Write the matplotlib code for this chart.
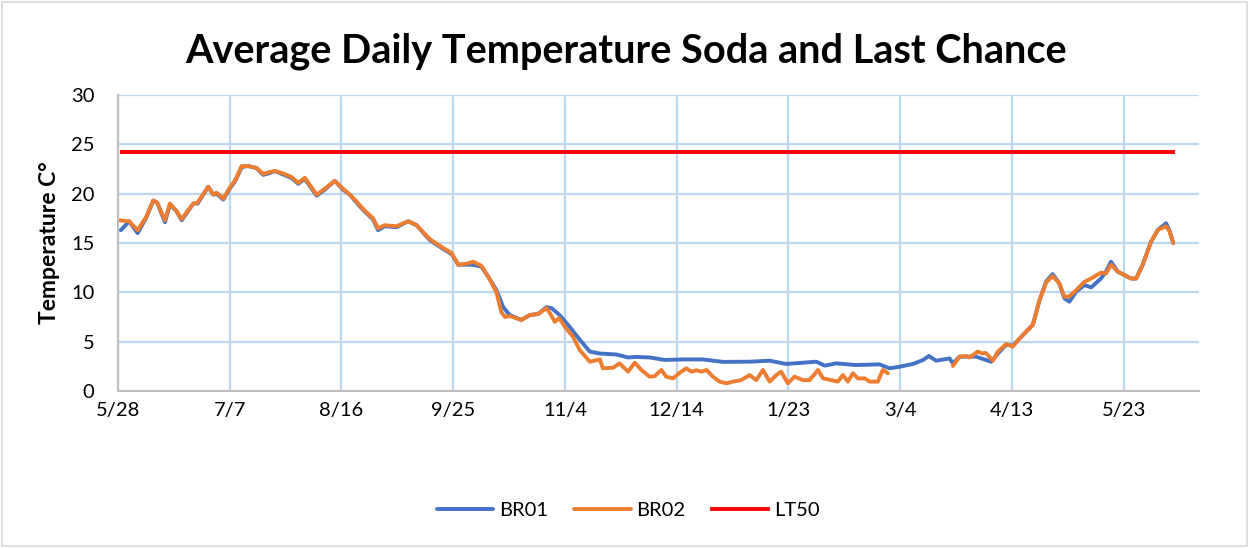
import numpy as np
import pandas as pd
import matplotlib
matplotlib.use('Agg')
import matplotlib.pyplot as plt
from matplotlib.patches import Rectangle

plt.rcParams['font.family'] = ['Lato', 'DejaVu Sans']

# day offsets from 5/28, temperatures
START = pd.Timestamp('2018-05-28')

br01_day = [1, 4, 7, 10, 12.6, 14, 16.8, 18.6, 21, 22.8, 25, 27, 28.5, 32.3, 34.1, 35.3,
            37.7, 40, 42, 44.3, 46.6, 49.6, 52, 54.4, 56.2, 58.6, 62.1, 64.5, 66.9, 71.1,
            74, 77.6, 80.6, 83, 84.8, 86.6, 89, 91.3, 93.1, 95.5, 99.7, 103.9, 106.9, 111.6,
            116.4, 119.4, 121.8, 124.8, 127, 130.1, 132.5, 135.5, 137.9, 140.2, 144.4, 147.4,
            150.4, 153.4, 155.2, 158.1, 161.7, 165.3, 168.9, 172.5, 178.4, 182.6, 185.6, 190.3,
            195.7, 202.3, 209.4, 216.6, 226.1, 233.3, 239.2, 250, 253, 257.1, 264.3, 272.6,
            276.2, 279.8, 284.6, 288.2, 290.3, 292.9, 297.7, 298.9, 301.3, 307.2, 312.6, 315,
            318, 320.3, 322.7, 325.1, 327.5, 329.9, 332.3, 334.6, 337, 338.8, 340.6, 343, 346,
            348.4, 351.9, 353.7, 355.5, 357.9, 360.3, 362.7, 364.5, 366.8, 369.8, 372.2, 375.2,
            376.4, 377.8]
br01_temp = [16.3, 17.2, 16.0, 17.5, 19.3, 19.1, 17.1, 18.9, 18.2, 17.3, 18.2, 19.0, 19.0, 20.7,
             19.9, 20.0, 19.4, 20.5, 21.3, 22.7, 22.8, 22.6, 21.9, 22.1, 22.3, 22.0, 21.6, 21.0,
             21.5, 19.8, 20.4, 21.3, 20.4, 19.9, 19.3, 18.7, 18.0, 17.4, 16.3, 16.7, 16.6, 17.2,
             16.8, 15.3, 14.4, 13.9, 12.8, 12.8, 12.8, 12.6, 11.6, 10.2, 8.5, 7.7, 7.2, 7.7, 7.8,
             8.5, 8.4, 7.7, 6.5, 5.2, 4.0, 3.8, 3.7, 3.4, 3.45, 3.4, 3.15, 3.2, 3.2, 2.95, 2.97,
             3.07, 2.74, 2.97, 2.57, 2.8, 2.63, 2.7, 2.3, 2.46, 2.74, 3.14, 3.55, 3.07, 3.3, 2.8,
             3.48, 3.48, 2.97, 3.8, 4.7, 4.6, 5.3, 6.0, 6.7, 9.2, 11.1, 11.85, 10.9, 9.4, 9.05,
             10.06, 10.74, 10.5, 11.4, 12.1, 13.1, 12.1, 11.75, 11.4, 11.4, 12.77, 15.1, 16.3,
             17.0, 16.3, 15.0]

br02_day = [0.5, 4, 7, 10, 12.6, 14, 16.8, 18.6, 21, 22.8, 25, 27, 28.5, 32.3, 34.1, 35.3,
            37.7, 40, 42, 44.3, 46.6, 49.6, 52, 54.4, 56.2, 58.6, 62.1, 64.5, 66.9, 71.1,
            74, 77.6, 80.6, 83, 84.8, 86.6, 89, 91.3, 93.1, 95.5, 99.7, 103.9, 106.9, 111.6,
            116.4, 119.4, 121.8, 124.8, 127.1, 130.1, 132.5, 135.5, 137.2, 138.6, 140.2, 144.4,
            147.4, 150.4, 153.4, 154.6, 156.4, 157.9, 160, 162.9, 165.3, 168.9, 172.5, 173.6,
            177.2, 179.6, 182.6, 185, 187.4, 190.3, 192.1, 194.5, 196.3, 198.7, 201.1, 203.5,
            205.3, 207.1, 208.9, 210.7, 213, 215.4, 217.8, 220.1, 223.1, 226.1, 228.5, 230.9,
            233.3, 235.7, 237.4, 239.8, 242.2, 245.2, 247.6, 250.6, 252.4, 255.4, 257.7, 259.5,
            261.3, 263.1, 264.9, 267.3, 269.1, 272, 273.8, 275.6,
            287,  # no data (gap)
            298.9, 301.3, 303.7, 304.9, 307.8, 309.5, 310.7, 313.2, 315, 318, 320.3, 322.7,
            325.1, 327.5, 329.9, 332.3, 334.6, 337, 338.8, 340.6, 343, 346, 348.4, 351.9, 353.7,
            355.5, 357.9, 360.3, 362.7, 364.5, 366.8, 369.8, 372.2, 375.2, 376.4, 377.8]
br02_temp = [17.3, 17.2, 16.3, 17.6, 19.3, 19.1, 17.3, 19.0, 18.2, 17.4, 18.3, 19.0, 19.1, 20.7,
             19.9, 20.1, 19.5, 20.6, 21.4, 22.8, 22.8, 22.6, 22.0, 22.2, 22.3, 22.1, 21.7, 21.1,
             21.6, 19.9, 20.5, 21.3, 20.5, 19.9, 19.4, 18.8, 18.1, 17.5, 16.5, 16.8, 16.7, 17.2,
             16.8, 15.4, 14.5, 14.0, 12.8, 12.9, 13.1, 12.7, 11.6, 10.0, 8.0, 7.5, 7.6, 7.2, 7.7,
             7.8, 8.4, 7.9, 7.0, 7.4, 6.5, 5.5, 4.15, 2.97, 3.2, 2.3, 2.36, 2.8, 1.96, 2.87, 2.13,
             1.45, 1.5, 2.13, 1.45, 1.28, 1.85, 2.3, 1.96, 2.1, 1.96, 2.13, 1.45, 0.95, 0.78, 0.95,
             1.1, 1.62, 1.1, 2.13, 0.95, 1.62, 1.96, 0.78, 1.45, 1.1, 1.1, 2.13, 1.28, 1.1, 0.95,
             1.62, 0.95, 1.8, 1.28, 1.28, 0.95, 0.95, 2.13, 1.8,
             np.nan,
             2.53, 3.48, 3.55, 3.4, 4.0, 3.8, 3.85, 3.07, 4.0, 4.76, 4.5, 5.3, 6.0, 6.7, 9.2, 11.0,
             11.65, 10.9, 9.55, 9.6, 10.2, 11.07, 11.4, 12.0, 11.9, 12.8, 12.1, 11.75, 11.4, 11.4,
             12.77, 15.1, 16.3, 16.7, 16.2, 15.0]

lt50_day = [1.4, 377.8]
lt50_temp = [24.2, 24.2]

tick_days = [0, 40, 80, 120, 160, 200, 240, 280, 320, 360]


def to_dates(days):
    return START + pd.to_timedelta(np.array(days, dtype=float), unit='D')


fig = plt.figure(figsize=(12.49, 5.48), dpi=100)
ax = fig.add_axes([118 / 1249, 1 - 391 / 548, (1199 - 118) / 1249, (391 - 95) / 548])

ax.plot(to_dates(br01_day), br01_temp, color='#4472C4', lw=2.8, label='BR01',
        solid_capstyle='round', solid_joinstyle='round')
ax.plot(to_dates(br02_day), br02_temp, color='#ED7D31', lw=2.8, label='BR02',
        solid_capstyle='round', solid_joinstyle='round')
ax.plot(to_dates(lt50_day), lt50_temp, color='#FF0000', lw=2.8, label='LT50')

ax.set_xlim(START, START + pd.Timedelta(days=387))
ax.set_ylim(0, 30)
ax.set_yticks(range(0, 31, 5))
ticks = to_dates(tick_days)
ax.set_xticks(ticks)
ax.set_xticklabels([f'{t.month}/{t.day}' for t in ticks])
ax.grid(True, color='#BDD7EE', lw=1.6)
ax.set_axisbelow(True)
ax.tick_params(length=0, labelsize=14.5, pad=8)
ax.tick_params(axis='y', pad=17)
for s in ['top', 'right']:
    ax.spines[s].set_visible(False)
ax.spines['left'].set_color('#BFBFBF')
ax.spines['left'].set_linewidth(1.5)
ax.spines['bottom'].set_color('#BFBFBF')
ax.spines['bottom'].set_linewidth(1.5)

ax.set_ylabel('Temperature C°', fontsize=16.5, fontweight='bold', labelpad=8)
fig.suptitle('Average Daily Temperature Soda and Last Chance', fontsize=28.5,
             fontweight='bold', x=0.501, y=0.94)

fig.legend(loc='center', bbox_to_anchor=(0.503, 0.068), ncol=3, frameon=False,
           fontsize=14.5, handlelength=2.8, columnspacing=1.3, handletextpad=0.3)

fig.patches.append(Rectangle((0.002, 0.004), 0.996, 0.992, transform=fig.transFigure,
                             fill=False, edgecolor='#D9D9D9', lw=1.2))

fig.savefig('out.png', dpi=100)
